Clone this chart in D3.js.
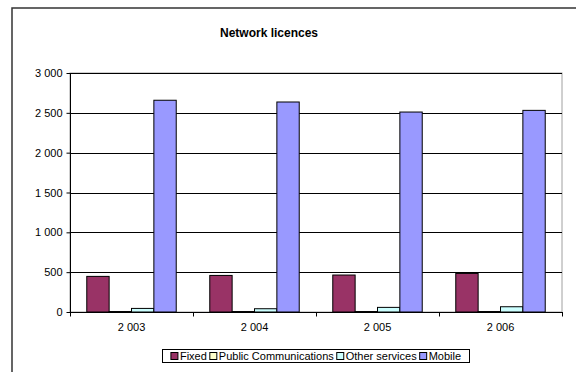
<!DOCTYPE html>
<html>
<head>
<meta charset="utf-8">
<script src="https://cdn.jsdelivr.net/npm/d3@7"></script>
<style>
  html, body { margin: 0; padding: 0; background: #fff; }
  svg { display: block; font-family: "Liberation Sans", Arial, sans-serif; }
</style>
</head>
<body>
<svg id="chart" width="576" height="372"></svg>
<script>
const categories = ["2 003", "2 004", "2 005", "2 006"];
const seriesNames = ["Fixed", "Public Communications", "Other services", "Mobile"];
const fixed = [447, 459, 464, 484];
const publicComm = [6, 6, 6, 6];
const otherServices = [45, 41, 58, 66];
const mobile = [2658, 2636, 2510, 2531];
const seriesColors = ["#993366", "#FFFFCC", "#CCFFFF", "#9999FF"];
const yTicks = [0, 500, 1000, 1500, 2000, 2500, 3000];

const seriesValues = [fixed, publicComm, otherServices, mobile];

const svg = d3.select("#chart");
const W = 576, H = 372;

// outer chart border
svg.append("rect").attr("x", 12).attr("y", 8).attr("width", W + 10).attr("height", H + 10)
  .attr("fill", "#fff").attr("stroke", "#333").attr("stroke-width", 1.5);

const plot = { left: 70, right: 562, top: 73, bottom: 312 };

const x0 = d3.scaleBand().domain(categories).range([plot.left, plot.right]).paddingInner(0).paddingOuter(0);
const y = d3.scaleLinear().domain([0, 3000]).range([plot.bottom, plot.top]);

// plot area border
svg.append("rect").attr("x", plot.left).attr("y", plot.top)
  .attr("width", plot.right - plot.left).attr("height", plot.bottom - plot.top)
  .attr("fill", "none").attr("stroke", "#a0a0a0").attr("stroke-width", 1);

// gridlines
svg.append("g").selectAll("line").data(yTicks.filter(d => d > 0)).join("line")
  .attr("x1", plot.left).attr("x2", plot.right)
  .attr("y1", d => Math.round(y(d)) + 0.5).attr("y2", d => Math.round(y(d)) + 0.5)
  .attr("stroke", "#000").attr("stroke-width", 1);

// bars
const bw = x0.bandwidth();
const x1 = d3.scaleBand().domain(seriesNames).range([0, bw]).paddingOuter(0.75).paddingInner(0);

const groups = svg.append("g").selectAll("g").data(categories).join("g")
  .attr("transform", d => `translate(${x0(d)},0)`);

groups.selectAll("rect").data((c, i) => seriesNames.map((s, j) => ({ s, v: seriesValues[j][i], j })))
  .join("rect")
  .attr("x", d => x1(d.s))
  .attr("width", x1.bandwidth())
  .attr("y", d => y(d.v))
  .attr("height", d => y(0) - y(d.v))
  .attr("fill", d => seriesColors[d.j])
  .attr("stroke", "#000").attr("stroke-width", 1);

// y axis
const yAxis = d3.axisLeft(y).tickValues(yTicks).tickSize(4).tickPadding(4)
  .tickFormat(d => d3.format(",")(d).replace(/,/g, " "));
const gy = svg.append("g").attr("transform", `translate(${plot.left + 0.5},0)`).call(yAxis);
gy.selectAll(".domain").attr("stroke", "#000").attr("d", `M0,${plot.top}V${plot.bottom + 0.5}`);
gy.selectAll("text").attr("font-size", 11).attr("fill", "#000")
  .attr("font-family", "Liberation Sans, Arial, sans-serif");
gy.selectAll(".tick line").attr("stroke", "#000");

// x axis
const xAxis = d3.axisBottom(x0).tickSize(0).tickPadding(11);
const gx = svg.append("g").attr("transform", `translate(0,${plot.bottom + 0.5})`).call(xAxis);
gx.select(".domain").attr("d", `M${plot.left},0H${plot.right + 1}`).attr("stroke", "#000");
gx.selectAll("text").attr("font-size", 11).attr("fill", "#000")
  .attr("font-family", "Liberation Sans, Arial, sans-serif");
// category boundary ticks
const bounds = categories.map(c => x0(c)).concat([plot.right]);
gx.append("g").selectAll("line").data(bounds).join("line")
  .attr("x1", d => Math.round(d) + 0.5).attr("x2", d => Math.round(d) + 0.5)
  .attr("y1", 0).attr("y2", 4).attr("stroke", "#000");

// title
svg.append("text").attr("x", 269).attr("y", 37).attr("text-anchor", "middle")
  .attr("font-size", 12).attr("font-weight", "bold").attr("fill", "#000")
  .text("Network licences");

// legend
const lg = svg.append("g");
const legendItems = lg.selectAll("g").data(seriesNames).join("g");
legendItems.append("rect").attr("width", 7).attr("height", 7)
  .attr("fill", (d, i) => seriesColors[i]).attr("stroke", "#000").attr("stroke-width", 1);
legendItems.append("text").attr("x", 9).attr("y", 7.5).attr("font-size", 11).attr("fill", "#000")
  .text(d => d);
let cx = 0;
const offsets = [];
legendItems.each(function () {
  offsets.push(cx);
  const tw = d3.select(this).select("text").node().getComputedTextLength();
  cx += 9 + tw + 3;
});
const totalW = cx - 3;
const boxL = 162.5, boxR = 469.5;
const startX = (boxL + boxR) / 2 - totalW / 2;
legendItems.attr("transform", (d, i) => `translate(${startX + offsets[i]},352.5)`);
lg.insert("rect", ":first-child").attr("x", boxL).attr("y", 349.5)
  .attr("width", boxR - boxL).attr("height", 13).attr("fill", "#fff")
  .attr("stroke", "#000").attr("stroke-width", 1);
</script>
</body>
</html>
